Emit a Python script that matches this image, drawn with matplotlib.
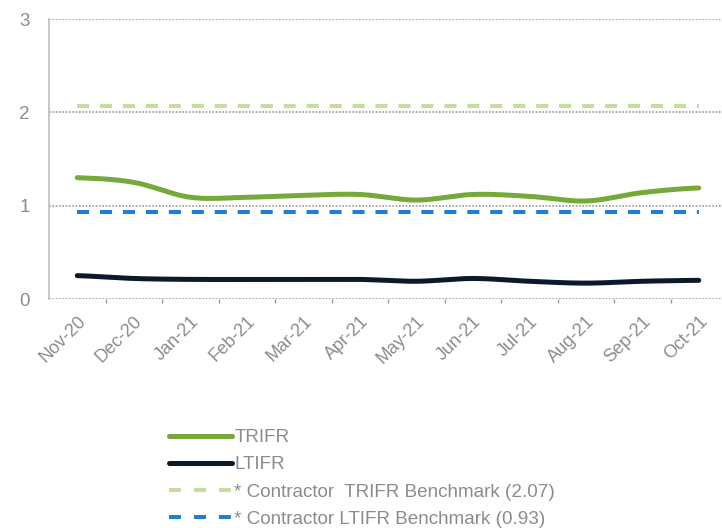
import numpy as np
import matplotlib.pyplot as plt
from matplotlib.lines import Line2D

plt.rcParams['font.family'] = ['Liberation Sans', 'DejaVu Sans']

months = ['Nov-20', 'Dec-20', 'Jan-21', 'Feb-21', 'Mar-21', 'Apr-21',
          'May-21', 'Jun-21', 'Jul-21', 'Aug-21', 'Sep-21', 'Oct-21']
trifr = [1.30, 1.25, 1.09, 1.09, 1.11, 1.12, 1.06, 1.12, 1.10, 1.05, 1.14, 1.19]
ltifr = [0.25, 0.22, 0.21, 0.21, 0.21, 0.21, 0.19, 0.22, 0.19, 0.17, 0.19, 0.20]
trifr_bench = 2.07
ltifr_bench = 0.93

labels = ['TRIFR', 'LTIFR',
          '* Contractor  TRIFR Benchmark (2.07)',
          '* Contractor LTIFR Benchmark (0.93)']

green = '#76a83a'
navy = '#0b1a2b'
light_green = '#c3df9f'
blue = '#1f7fd3'
grey = '#8c8c8c'


def smooth(y, n=30):
    # Catmull-Rom style smoothing like Excel's smoothed line
    y = np.asarray(y, float)
    p = np.concatenate([[y[0]], y, [y[-1]]])
    xs, ys = [], []
    for i in range(len(y) - 1):
        p0, p1, p2, p3 = p[i], p[i + 1], p[i + 2], p[i + 3]
        t = np.linspace(0, 1, n, endpoint=False)
        yy = 0.5 * ((2 * p1) + (-p0 + p2) * t + (2 * p0 - 5 * p1 + 4 * p2 - p3) * t ** 2
                    + (-p0 + 3 * p1 - 3 * p2 + p3) * t ** 3)
        xs.append(i + t)
        ys.append(yy)
    xs.append([len(y) - 1])
    ys.append([y[-1]])
    return np.concatenate(xs), np.concatenate(ys)


fig = plt.figure(figsize=(7.22, 5.28), dpi=100)
ax = fig.add_axes([49 / 722, 1 - 299 / 528, 678 / 722, 280 / 528])

x = np.arange(len(months))
ax.plot([0, len(months) - 1], [trifr_bench] * 2, color=light_green, lw=2.9,
        dashes=(3, 2.7))
ax.plot([0, len(months) - 1], [ltifr_bench] * 2, color=blue, lw=2.9,
        dashes=(3, 2.7))
sx, sy = smooth(trifr)
ax.plot(sx, sy, color=green, lw=3.6, solid_capstyle='round')
sx, sy = smooth(ltifr)
ax.plot(sx, sy, color=navy, lw=3.6, solid_capstyle='round')

ax.set_xlim(-0.5, len(months) - 0.5)
ax.set_ylim(0, 3)
ax.set_yticks([0, 1, 2, 3])
ax.yaxis.grid(True, color='#999999', linestyle=(0, (1, 1)), lw=1.2)
ax.set_axisbelow(True)
for s in ['top', 'right', 'bottom']:
    ax.spines[s].set_visible(False)
ax.spines['left'].set_color('#bfbfbf')
ax.spines['left'].set_linewidth(1.2)
ax.tick_params(axis='y', length=0, labelsize=13.5, labelcolor=grey, pad=14)

ax.set_xticks(x)
ax.set_xticklabels(months, rotation=45, ha='right', rotation_mode='anchor',
                   fontsize=13, color=grey)
ax.set_xticks(np.arange(len(months)) + 0.5, minor=True)
ax.tick_params(axis='x', which='major', length=0, pad=10)
ax.tick_params(axis='x', which='minor', length=3, color='#999999', width=1)

handles = [Line2D([], [], color=green, lw=3.6, solid_capstyle='round'),
           Line2D([], [], color=navy, lw=3.6, solid_capstyle='round'),
           Line2D([], [], color=light_green, lw=2.9, dashes=(2.97, 3.23)),
           Line2D([], [], color=blue, lw=2.9, dashes=(2.97, 3.23))]
fig.legend(handles, labels, loc='upper left', bbox_to_anchor=(156 / 722, 1 - 416 / 528),
           frameon=False, fontsize=13.6, handlelength=3.3, handletextpad=0.15,
           labelspacing=0.52, labelcolor=grey, borderaxespad=0.3)

fig.savefig('out.png', dpi=100)
